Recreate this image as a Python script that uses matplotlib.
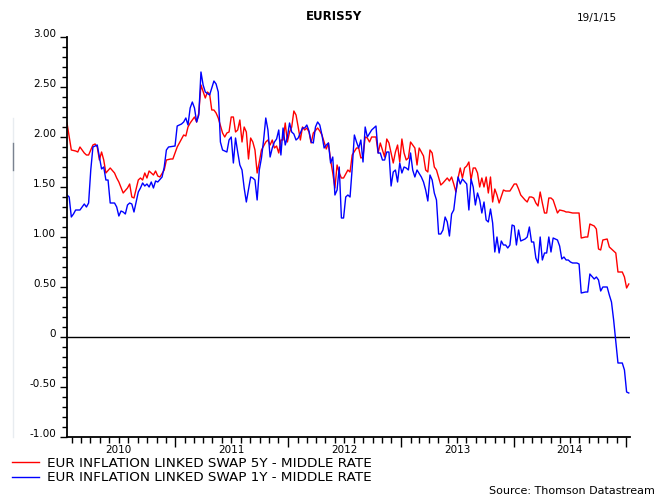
import datetime as dt

import matplotlib
matplotlib.use("Agg")
import matplotlib.pyplot as plt
import matplotlib.dates as mdates
from matplotlib.lines import Line2D

# weekly observations, week index counted from the first observation date
start_date = dt.date(2010, 1, 15)

swap5y_week = [
    0, 2, 4, 5, 6, 8, 9, 10, 12, 13, 14, 15, 16, 17, 18, 20, 22, 23, 24, 26,
    28, 29, 30, 31, 33, 34, 35, 36, 37, 38, 40, 41, 42, 43, 45, 46, 48, 49, 51, 52,
    54, 55, 56, 57, 59, 60, 61, 62, 64, 65, 66, 67, 68, 69, 70, 72, 73, 74, 75, 76,
    77, 78, 79, 80, 81, 82, 83, 84, 85, 86, 87, 88, 89, 90, 92, 93, 94, 95, 96, 97,
    98, 99, 100, 101, 102, 103, 104, 105, 106, 107, 108, 109, 110, 111, 112, 113, 114, 116, 117, 118,
    119, 120, 121, 122, 123, 124, 125, 126, 127, 128, 130, 131, 132, 134, 135, 136, 137, 138, 139, 140,
    141, 143, 144, 145, 146, 147, 148, 149, 151, 152, 153, 154, 155, 156, 157, 158, 159, 160, 161, 162,
    163, 165, 166, 167, 168, 169, 170, 171, 173, 174, 176, 177, 178, 179, 180, 181, 182, 183, 184, 185,
    186, 187, 188, 189, 190, 191, 192, 193, 194, 195, 196, 197, 198, 199, 200, 202, 203, 205, 207, 208,
    209, 210, 212, 213, 214, 215, 216, 217, 218, 219, 220, 221, 222, 223, 224, 225, 227, 228, 230, 231,
    232, 234, 236, 237, 238, 240, 241, 242, 244, 245, 246, 247, 248, 250, 251, 252, 254, 255, 257, 258,
    259, 260,
]
swap5y_rate = [
    2.14, 1.87, 1.86, 1.85, 1.90, 1.84, 1.82, 1.82, 1.92, 1.93, 1.90, 1.77, 1.85, 1.77, 1.64, 1.69, 1.64, 1.59, 1.55, 1.44,
    1.49, 1.53, 1.40, 1.39, 1.57, 1.59, 1.57, 1.64, 1.59, 1.66, 1.62, 1.66, 1.61, 1.60, 1.67, 1.77, 1.78, 1.78, 1.90, 1.94,
    2.02, 2.01, 2.10, 2.14, 2.20, 2.15, 2.24, 2.52, 2.39, 2.45, 2.43, 2.27, 2.27, 2.24, 2.19, 2.04, 2.00, 2.04, 2.05, 2.20,
    2.20, 2.05, 2.07, 2.17, 1.95, 2.10, 2.05, 1.78, 1.99, 1.95, 1.87, 1.64, 1.75, 1.87, 1.95, 1.97, 1.92, 1.97, 1.89, 1.91,
    1.84, 1.97, 1.97, 2.14, 1.95, 2.05, 2.10, 2.26, 2.22, 2.10, 1.97, 2.10, 2.07, 2.09, 2.05, 1.94, 2.04, 2.09, 2.06, 2.02,
    1.95, 1.88, 1.94, 1.77, 1.64, 1.49, 1.72, 1.64, 1.59, 1.59, 1.67, 1.65, 1.82, 1.89, 1.89, 1.79, 1.80, 2.00, 1.99, 1.95,
    2.00, 2.00, 1.84, 1.94, 1.87, 1.80, 1.98, 1.94, 1.74, 1.85, 1.92, 1.75, 1.98, 1.84, 1.77, 1.79, 1.95, 1.92, 1.89, 1.72,
    1.89, 1.81, 1.67, 1.65, 1.87, 1.84, 1.70, 1.67, 1.52, 1.54, 1.59, 1.56, 1.60, 1.53, 1.45, 1.59, 1.69, 1.59, 1.69, 1.71,
    1.75, 1.57, 1.69, 1.69, 1.64, 1.50, 1.59, 1.50, 1.60, 1.44, 1.60, 1.35, 1.48, 1.42, 1.34, 1.47, 1.46, 1.46, 1.53, 1.53,
    1.48, 1.42, 1.37, 1.35, 1.40, 1.40, 1.39, 1.34, 1.31, 1.45, 1.34, 1.24, 1.24, 1.39, 1.39, 1.37, 1.24, 1.27, 1.26, 1.25,
    1.25, 1.24, 1.24, 1.24, 0.99, 1.00, 1.00, 1.13, 1.11, 1.08, 0.88, 0.87, 0.97, 0.98, 0.90, 0.88, 0.84, 0.65, 0.65, 0.60,
    0.49, 0.53,
]

swap1y_week = [
    0, 1, 2, 3, 4, 6, 7, 8, 9, 10, 11, 12, 13, 14, 15, 16, 17, 18, 19, 20,
    22, 23, 24, 25, 26, 27, 28, 29, 30, 31, 32, 33, 34, 35, 36, 37, 38, 39, 40, 41,
    42, 44, 45, 46, 47, 50, 51, 53, 54, 55, 56, 57, 58, 59, 60, 61, 62, 63, 64, 66,
    68, 69, 70, 71, 72, 74, 75, 76, 77, 78, 79, 80, 81, 82, 83, 85, 86, 87, 88, 89,
    90, 91, 92, 93, 94, 95, 96, 97, 98, 99, 100, 101, 102, 103, 104, 105, 106, 107, 109, 110,
    111, 112, 113, 114, 115, 116, 117, 118, 119, 120, 121, 122, 123, 124, 125, 126, 127, 128, 129, 130,
    131, 132, 133, 134, 135, 136, 137, 138, 139, 141, 142, 143, 144, 145, 146, 147, 148, 149, 150, 151,
    152, 153, 154, 155, 156, 157, 158, 159, 160, 161, 162, 164, 165, 166, 167, 168, 169, 170, 171, 172,
    173, 174, 175, 176, 177, 178, 179, 180, 181, 182, 183, 185, 186, 187, 188, 189, 190, 191, 192, 193,
    194, 195, 196, 197, 198, 199, 200, 201, 202, 203, 204, 205, 206, 207, 208, 209, 210, 212, 213, 214,
    215, 216, 217, 218, 219, 220, 221, 222, 223, 224, 225, 227, 228, 229, 230, 231, 232, 233, 234, 236,
    237, 238, 240, 241, 242, 244, 245, 246, 247, 248, 249, 250, 251, 252, 253, 255, 256, 257, 258, 259,
    260,
]
swap1y_rate = [
    1.42, 1.40, 1.20, 1.23, 1.27, 1.27, 1.30, 1.33, 1.30, 1.34, 1.67, 1.90, 1.91, 1.92, 1.80, 1.68, 1.70, 1.57, 1.57, 1.34,
    1.34, 1.30, 1.21, 1.26, 1.25, 1.23, 1.32, 1.34, 1.33, 1.25, 1.35, 1.45, 1.49, 1.54, 1.51, 1.53, 1.50, 1.55, 1.49, 1.56,
    1.55, 1.60, 1.70, 1.87, 1.90, 1.91, 2.11, 2.13, 2.15, 2.19, 2.12, 2.29, 2.35, 2.29, 2.15, 2.22, 2.65, 2.52, 2.45, 2.42,
    2.56, 2.53, 2.45, 1.95, 1.87, 1.85, 1.97, 2.00, 1.74, 1.99, 1.85, 1.72, 1.67, 1.49, 1.35, 1.60, 1.59, 1.57, 1.37, 1.67,
    1.79, 1.97, 2.19, 2.07, 1.80, 1.89, 1.95, 1.98, 2.07, 1.82, 2.09, 1.92, 2.00, 2.14, 2.05, 2.03, 1.97, 1.99, 2.09, 2.09,
    2.12, 2.06, 1.95, 1.94, 2.10, 2.15, 2.12, 2.02, 1.89, 1.92, 1.94, 1.74, 1.80, 1.42, 1.47, 1.70, 1.19, 1.19, 1.40, 1.42,
    1.40, 1.69, 2.02, 1.95, 1.89, 1.97, 1.75, 2.10, 2.00, 2.07, 2.09, 2.11, 1.84, 1.84, 1.77, 1.77, 1.85, 1.85, 1.51, 1.65,
    1.67, 1.55, 1.74, 1.64, 1.70, 1.69, 1.67, 1.84, 1.67, 1.60, 1.67, 1.60, 1.55, 1.47, 1.36, 1.62, 1.57, 1.44, 1.37, 1.03,
    1.03, 1.07, 1.20, 1.15, 1.01, 1.23, 1.27, 1.45, 1.60, 1.53, 1.58, 1.53, 1.27, 1.58, 1.50, 1.32, 1.44, 1.37, 1.24, 1.35,
    1.17, 1.15, 1.28, 1.14, 0.85, 1.00, 0.84, 0.96, 0.92, 0.92, 0.89, 0.92, 1.12, 1.11, 0.92, 1.07, 0.96, 0.98, 1.00, 1.10,
    0.95, 0.95, 0.79, 0.74, 1.00, 0.77, 0.84, 0.84, 1.00, 0.85, 0.99, 0.97, 0.91, 0.78, 0.80, 0.77, 0.77, 0.75, 0.74, 0.74,
    0.73, 0.44, 0.45, 0.45, 0.63, 0.58, 0.60, 0.57, 0.46, 0.50, 0.50, 0.50, 0.42, 0.35, 0.17, -0.26, -0.26, -0.26, -0.33, -0.55,
    -0.56,
]

years = [2010, 2011, 2012, 2013, 2014]
y_ticks = [-1.0, -0.5, 0.0, 0.5, 1.0, 1.5, 2.0, 2.5, 3.0]
y_labels = ["-1.00", "-0.50", "0", "0.50", "1.00", "1.50", "2.00", "2.50", "3.00"]
labels = ["EUR INFLATION LINKED SWAP 5Y - MIDDLE RATE",
          "EUR INFLATION LINKED SWAP 1Y - MIDDLE RATE"]


def to_dates(weeks):
    return [start_date + dt.timedelta(weeks=w) for w in weeks]


fig = plt.figure(figsize=(6.67, 4.95), dpi=100)
ax = fig.add_axes([67 / 667, 1 - 437 / 495, 563 / 667, 400 / 495])

ax.plot(to_dates(swap5y_week), swap5y_rate, color="#ff0000", lw=1.0, label=labels[0])
ax.plot(to_dates(swap1y_week), swap1y_rate, color="#0000ff", lw=1.0, label=labels[1])
ax.axhline(0, color="black", lw=1.0, zorder=1)

ax.set_xlim(start_date, start_date + dt.timedelta(weeks=260.6))
ax.set_ylim(-1.0, 3.0)

for side in ["top", "right"]:
    ax.spines[side].set_visible(False)
ax.spines["left"].set_linewidth(1.3)
ax.spines["bottom"].set_linewidth(1.3)

# y axis
ax.set_yticks(y_ticks)
ax.set_yticklabels(y_labels)
ax.set_yticks([i / 10 for i in range(-10, 31)], minor=True)
ax.tick_params(axis="y", which="major", length=5, width=1, pad=3, labelsize=7.5)
ax.tick_params(axis="y", which="minor", length=3.5, width=1)
for lab in ax.get_yticklabels():
    lab.set_verticalalignment("baseline")

# x axis: long ticks at year starts, short monthly ticks, labels mid-year
ax.xaxis.set_major_locator(mdates.YearLocator())
ax.xaxis.set_minor_locator(mdates.MonthLocator())
ax.xaxis.set_major_formatter(plt.NullFormatter())
ax.tick_params(axis="x", which="major", length=7, width=1)
ax.tick_params(axis="x", which="minor", length=4, width=1)
for yr in years:
    ax.text(dt.date(yr, 7, 2), -0.033, str(yr), transform=ax.get_xaxis_transform(),
            ha="center", va="center", fontsize=7.5)

fig.text(334 / 667, 1 - 17 / 495, "EURIS5Y", ha="center", va="center",
         fontsize=8.5, fontweight="bold")
fig.text(617 / 667, 1 - 18 / 495, "19/1/15", ha="right", va="center", fontsize=7.5)
fig.text(655 / 667, 1 - 491 / 495, "Source: Thomson Datastream", ha="right",
         va="center", fontsize=8)

fig.legend(loc="upper left", bbox_to_anchor=(12 / 667, 1 - 457 / 495),
           frameon=False, fontsize=9.7, handlelength=2.0, handletextpad=0.6,
           labelspacing=0.1, borderpad=0, borderaxespad=0)

# small scan mark at the left edge
fig.add_artist(Line2D([13 / 667, 13 / 667], [1 - 118 / 495, 1 - 437 / 495],
                      color="#e8ecf0", lw=1))
fig.add_artist(Line2D([13 / 667, 13 / 667], [1 - 143 / 495, 1 - 170 / 495],
                      color="#7a8290", lw=1))

fig.savefig("out.png", dpi=100)
